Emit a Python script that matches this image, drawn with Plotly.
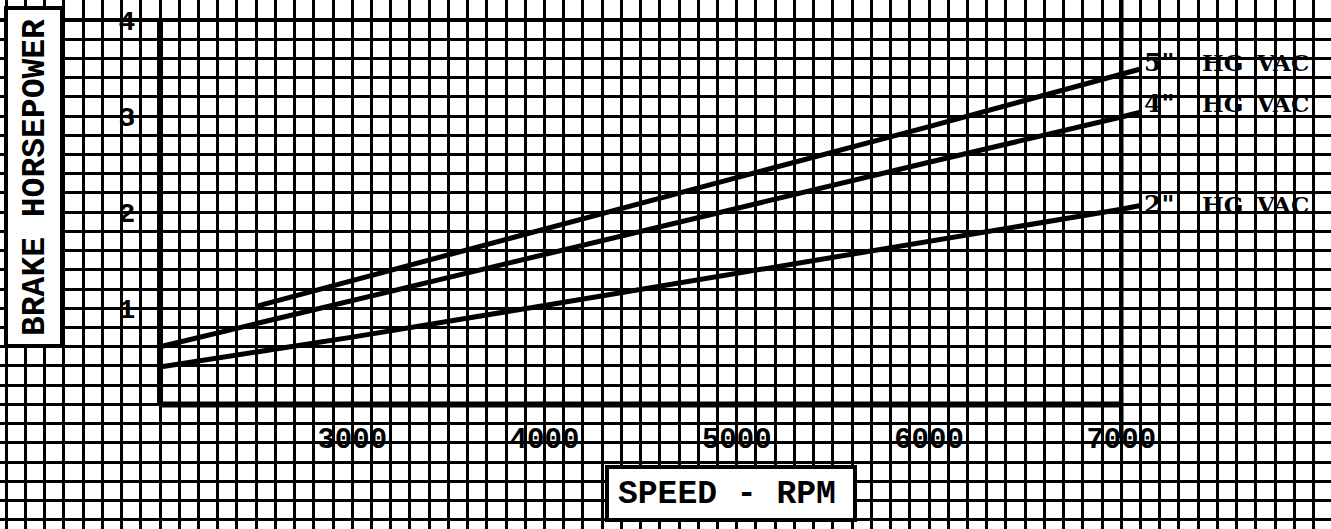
import plotly.graph_objects as go

# ---- data ----
rpm_5in = [2500, 3000, 4000, 5000, 6000, 7000, 7100]
hp_5in = [1.02, 1.29, 1.83, 2.36, 2.89, 3.43, 3.49]

rpm_4in = [2000, 3000, 4000, 5000, 6000, 7000, 7100]
hp_4in = [0.60, 1.08, 1.57, 2.05, 2.52, 2.99, 3.04]

rpm_2in = [2000, 3000, 4000, 5000, 6000, 7000, 7100]
hp_2in = [0.39, 0.70, 1.03, 1.36, 1.69, 2.03, 2.07]

series_labels = ['5"', '4"', '2"']
label_y = [3.56, 3.13, 2.08]
label_words = ["HG", "VAC"]

x_tick_vals = [3000, 4000, 5000, 6000, 7000]
x_tick_text = ["3000", "4000", "5000", "6000", "7000"]
y_tick_vals = [1, 2, 3, 4]
y_tick_text = ["1", "2", "3", "4"]

x_title = "SPEED - RPM"
y_title = "BRAKE HORSEPOWER"

# ---- geometry ----
W, H = 1331, 529
X_RANGE = [1167.7, 8091.0]
Y_RANGE = [-1.2966, 4.208]
MONO = "Liberation Mono"
SERIF = "DejaVu Serif"


def xpaper(v):
    return (v - X_RANGE[0]) / (X_RANGE[1] - X_RANGE[0])


def ypaper(v):
    return (v - Y_RANGE[0]) / (Y_RANGE[1] - Y_RANGE[0])


fig = go.Figure()
for xs, ys in [(rpm_5in, hp_5in), (rpm_4in, hp_4in), (rpm_2in, hp_2in)]:
    fig.add_trace(go.Scatter(x=xs, y=ys, mode="lines",
                             line=dict(color="black", width=5),
                             showlegend=False, hoverinfo="skip"))

# invisible trace to activate overlay axes
fig.add_trace(go.Scatter(x=[x_tick_vals[0]], y=[y_tick_vals[0]], xaxis="x2", yaxis="y2",
                         mode="markers", marker=dict(opacity=0), showlegend=False,
                         hoverinfo="skip"))

grid = dict(showgrid=True, gridcolor="black", gridwidth=2.6, zeroline=False,
            showticklabels=False, ticks="", showline=False, fixedrange=True)

fig.update_layout(
    width=W, height=H,
    margin=dict(l=0, r=0, t=0, b=0),
    paper_bgcolor="white", plot_bgcolor="white",
    xaxis=dict(range=X_RANGE, tick0=2000, dtick=100, **grid),
    yaxis=dict(range=Y_RANGE, tick0=0, dtick=0.2, **grid),
    xaxis2=dict(range=X_RANGE, overlaying="x", anchor="free", position=ypaper(0),
                side="bottom", showgrid=False, zeroline=False, showline=False,
                tickmode="array", tickvals=x_tick_vals, ticktext=x_tick_text,
                ticks="outside", ticklen=12, tickwidth=3, tickcolor="black",
                tickfont=dict(family=MONO, size=29, color="black", weight="bold"),
                ticklabelstandoff=-4, fixedrange=True),
    yaxis2=dict(range=Y_RANGE, overlaying="y", anchor="free", position=xpaper(2000),
                side="left", showgrid=False, zeroline=False, showline=False,
                tickmode="array", tickvals=y_tick_vals, ticktext=y_tick_text,
                ticks="outside", ticklen=11, tickwidth=3, tickcolor="black",
                tickfont=dict(family=MONO, size=28, color="black", weight="bold"),
                ticklabelstandoff=8, fixedrange=True),
)

# axis lines and heavy rules
fig.add_shape(type="line", x0=2000, x1=7000, y0=0, y1=0, xref="x", yref="y",
              line=dict(color="black", width=6))
fig.add_shape(type="line", x0=2000, x1=2000, y0=0, y1=4, xref="x", yref="y",
              line=dict(color="black", width=6))
fig.add_shape(type="line", x0=7000, x1=7000, y0=ypaper(-0.35), y1=1, xref="x", yref="paper",
              line=dict(color="black", width=4.5))
fig.add_shape(type="line", x0=0, x1=1, y0=4, y1=4, xref="paper", yref="y",
              line=dict(color="black", width=4))

# title boxes
fig.add_shape(type="rect", xref="paper", yref="paper",
              x0=6 / W, x1=62 / W, y0=1 - 346 / H, y1=1 - 8 / H,
              fillcolor="white", line=dict(color="black", width=4))
fig.add_annotation(text="<b>" + y_title + "</b>", xref="paper", yref="paper",
                   x=35 / W, y=1 - 178 / H,
                   textangle=-90, showarrow=False, xanchor="center", yanchor="middle",
                   font=dict(family=MONO, size=33, color="black"))

fig.add_shape(type="rect", xref="paper", yref="paper",
              x0=607 / W, x1=855 / W, y0=1 - 520 / H, y1=1 - 467 / H,
              fillcolor="white", line=dict(color="black", width=4))
fig.add_annotation(text="<b>" + x_title + "</b>", xref="paper", yref="paper",
                   x=727 / W, y=1 - 494 / H,
                   showarrow=False, xanchor="center", yanchor="middle",
                   font=dict(family=MONO, size=33, color="black"))

# curve labels
for lab, yv in zip(series_labels, label_y):
    fig.add_annotation(text="<b>" + lab + "</b>", x=7110, y=yv, xref="x", yref="y",
                       showarrow=False, xanchor="left", yanchor="middle",
                       font=dict(family=SERIF, size=25, color="black"))
    fig.add_annotation(text="<b>" + label_words[0] + "</b>", x=7410, y=yv, xref="x", yref="y",
                       showarrow=False, xanchor="left", yanchor="middle",
                       font=dict(family=SERIF, size=23, color="black"))
    fig.add_annotation(text="<b>" + label_words[1] + "</b>", x=7690, y=yv, xref="x", yref="y",
                       showarrow=False, xanchor="left", yanchor="middle",
                       font=dict(family=SERIF, size=23, color="black"))

fig.write_html("out.html", config={"displayModeBar": False},
               post_script="document.body.style.margin='0';document.body.style.overflow='hidden';")
